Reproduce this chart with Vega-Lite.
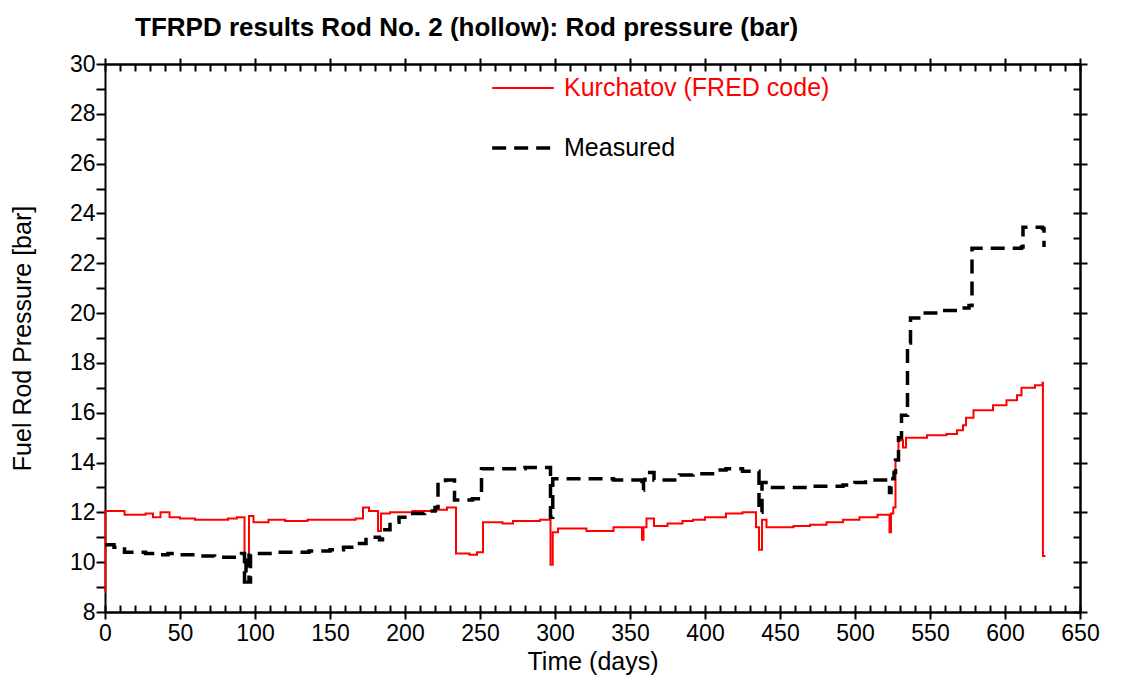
{
  "$schema": "https://vega.github.io/schema/vega-lite/v6.json",
  "width": 975,
  "height": 548,
  "autosize": {"type": "none"},
  "padding": {"left": 105, "top": 64, "right": 45, "bottom": 68},
  "background": "white",
  "title": {"text": "TFRPD results Rod No. 2 (hollow): Rod pressure (bar)", "anchor": "start", "frame": "group", "dx": 30, "fontSize": 26, "fontWeight": "bold", "font": "Liberation Sans", "color": "black", "offset": 12},
  "config": {
    "view": {"stroke": null},
    "axis": {"grid": false, "domainColor": "black", "domainWidth": 2, "tickColor": "black", "tickWidth": 2, "labelFont": "Liberation Sans", "labelFontSize": 23, "labelColor": "black", "labelFlush": false, "labelOverlap": false, "titleFont": "Liberation Sans", "titleFontSize": 25, "titleFontWeight": "normal", "titleColor": "black"}
  },
  "data": {"values": [
    {"day": 0, "p": 8.8, "series": "Kurchatov (FRED code)"},
    {"day": 0.3, "p": 12.05, "series": "Kurchatov (FRED code)"},
    {"day": 13, "p": 11.9, "series": "Kurchatov (FRED code)"},
    {"day": 27, "p": 11.95, "series": "Kurchatov (FRED code)"},
    {"day": 32, "p": 11.8, "series": "Kurchatov (FRED code)"},
    {"day": 37, "p": 12.0, "series": "Kurchatov (FRED code)"},
    {"day": 43, "p": 11.8, "series": "Kurchatov (FRED code)"},
    {"day": 50, "p": 11.75, "series": "Kurchatov (FRED code)"},
    {"day": 60, "p": 11.7, "series": "Kurchatov (FRED code)"},
    {"day": 82, "p": 11.75, "series": "Kurchatov (FRED code)"},
    {"day": 88, "p": 11.8, "series": "Kurchatov (FRED code)"},
    {"day": 93, "p": 10.0, "series": "Kurchatov (FRED code)"},
    {"day": 96, "p": 11.85, "series": "Kurchatov (FRED code)"},
    {"day": 99, "p": 11.6, "series": "Kurchatov (FRED code)"},
    {"day": 109, "p": 11.7, "series": "Kurchatov (FRED code)"},
    {"day": 120, "p": 11.65, "series": "Kurchatov (FRED code)"},
    {"day": 135, "p": 11.7, "series": "Kurchatov (FRED code)"},
    {"day": 167, "p": 11.75, "series": "Kurchatov (FRED code)"},
    {"day": 172, "p": 12.2, "series": "Kurchatov (FRED code)"},
    {"day": 176, "p": 12.05, "series": "Kurchatov (FRED code)"},
    {"day": 182, "p": 11.25, "series": "Kurchatov (FRED code)"},
    {"day": 184, "p": 11.95, "series": "Kurchatov (FRED code)"},
    {"day": 190, "p": 12.0, "series": "Kurchatov (FRED code)"},
    {"day": 205, "p": 12.05, "series": "Kurchatov (FRED code)"},
    {"day": 221, "p": 12.1, "series": "Kurchatov (FRED code)"},
    {"day": 228, "p": 12.2, "series": "Kurchatov (FRED code)"},
    {"day": 234, "p": 10.35, "series": "Kurchatov (FRED code)"},
    {"day": 243, "p": 10.3, "series": "Kurchatov (FRED code)"},
    {"day": 248, "p": 10.4, "series": "Kurchatov (FRED code)"},
    {"day": 252, "p": 11.6, "series": "Kurchatov (FRED code)"},
    {"day": 265, "p": 11.55, "series": "Kurchatov (FRED code)"},
    {"day": 272, "p": 11.65, "series": "Kurchatov (FRED code)"},
    {"day": 290, "p": 11.7, "series": "Kurchatov (FRED code)"},
    {"day": 297, "p": 9.9, "series": "Kurchatov (FRED code)"},
    {"day": 298.5, "p": 11.2, "series": "Kurchatov (FRED code)"},
    {"day": 302, "p": 11.35, "series": "Kurchatov (FRED code)"},
    {"day": 321, "p": 11.25, "series": "Kurchatov (FRED code)"},
    {"day": 339, "p": 11.4, "series": "Kurchatov (FRED code)"},
    {"day": 358, "p": 10.9, "series": "Kurchatov (FRED code)"},
    {"day": 359, "p": 11.4, "series": "Kurchatov (FRED code)"},
    {"day": 361, "p": 11.75, "series": "Kurchatov (FRED code)"},
    {"day": 366, "p": 11.45, "series": "Kurchatov (FRED code)"},
    {"day": 375, "p": 11.55, "series": "Kurchatov (FRED code)"},
    {"day": 385, "p": 11.65, "series": "Kurchatov (FRED code)"},
    {"day": 392, "p": 11.7, "series": "Kurchatov (FRED code)"},
    {"day": 400, "p": 11.8, "series": "Kurchatov (FRED code)"},
    {"day": 414, "p": 11.95, "series": "Kurchatov (FRED code)"},
    {"day": 425, "p": 12.0, "series": "Kurchatov (FRED code)"},
    {"day": 434, "p": 11.4, "series": "Kurchatov (FRED code)"},
    {"day": 436, "p": 10.5, "series": "Kurchatov (FRED code)"},
    {"day": 438, "p": 11.7, "series": "Kurchatov (FRED code)"},
    {"day": 441, "p": 11.4, "series": "Kurchatov (FRED code)"},
    {"day": 459, "p": 11.45, "series": "Kurchatov (FRED code)"},
    {"day": 470, "p": 11.5, "series": "Kurchatov (FRED code)"},
    {"day": 481, "p": 11.6, "series": "Kurchatov (FRED code)"},
    {"day": 492, "p": 11.7, "series": "Kurchatov (FRED code)"},
    {"day": 503, "p": 11.8, "series": "Kurchatov (FRED code)"},
    {"day": 515, "p": 11.9, "series": "Kurchatov (FRED code)"},
    {"day": 523, "p": 11.2, "series": "Kurchatov (FRED code)"},
    {"day": 524, "p": 11.95, "series": "Kurchatov (FRED code)"},
    {"day": 525.5, "p": 12.2, "series": "Kurchatov (FRED code)"},
    {"day": 527, "p": 14.1, "series": "Kurchatov (FRED code)"},
    {"day": 529, "p": 14.9, "series": "Kurchatov (FRED code)"},
    {"day": 532, "p": 14.6, "series": "Kurchatov (FRED code)"},
    {"day": 534, "p": 15.0, "series": "Kurchatov (FRED code)"},
    {"day": 548, "p": 15.1, "series": "Kurchatov (FRED code)"},
    {"day": 561, "p": 15.15, "series": "Kurchatov (FRED code)"},
    {"day": 568, "p": 15.3, "series": "Kurchatov (FRED code)"},
    {"day": 572, "p": 15.5, "series": "Kurchatov (FRED code)"},
    {"day": 574, "p": 15.8, "series": "Kurchatov (FRED code)"},
    {"day": 579, "p": 16.1, "series": "Kurchatov (FRED code)"},
    {"day": 592, "p": 16.3, "series": "Kurchatov (FRED code)"},
    {"day": 601, "p": 16.5, "series": "Kurchatov (FRED code)"},
    {"day": 608, "p": 16.7, "series": "Kurchatov (FRED code)"},
    {"day": 611, "p": 17.0, "series": "Kurchatov (FRED code)"},
    {"day": 620, "p": 17.1, "series": "Kurchatov (FRED code)"},
    {"day": 625, "p": 17.2, "series": "Kurchatov (FRED code)"},
    {"day": 625.3, "p": 10.25, "series": "Kurchatov (FRED code)"},
    {"day": 627, "p": 10.25, "series": "Kurchatov (FRED code)"},
    {"day": 0, "p": 10.7, "series": "Measured"},
    {"day": 6, "p": 10.6, "series": "Measured"},
    {"day": 13, "p": 10.4, "series": "Measured"},
    {"day": 27, "p": 10.35, "series": "Measured"},
    {"day": 33, "p": 10.3, "series": "Measured"},
    {"day": 42, "p": 10.35, "series": "Measured"},
    {"day": 48, "p": 10.3, "series": "Measured"},
    {"day": 60, "p": 10.25, "series": "Measured"},
    {"day": 73, "p": 10.2, "series": "Measured"},
    {"day": 88, "p": 10.3, "series": "Measured"},
    {"day": 91, "p": 10.35, "series": "Measured"},
    {"day": 93, "p": 9.2, "series": "Measured"},
    {"day": 94, "p": 10.35, "series": "Measured"},
    {"day": 96, "p": 9.2, "series": "Measured"},
    {"day": 97, "p": 10.35, "series": "Measured"},
    {"day": 114, "p": 10.4, "series": "Measured"},
    {"day": 136, "p": 10.45, "series": "Measured"},
    {"day": 150, "p": 10.5, "series": "Measured"},
    {"day": 159, "p": 10.6, "series": "Measured"},
    {"day": 168, "p": 10.75, "series": "Measured"},
    {"day": 174, "p": 11.0, "series": "Measured"},
    {"day": 183, "p": 10.9, "series": "Measured"},
    {"day": 185, "p": 11.3, "series": "Measured"},
    {"day": 190, "p": 11.6, "series": "Measured"},
    {"day": 196, "p": 11.8, "series": "Measured"},
    {"day": 202, "p": 11.95, "series": "Measured"},
    {"day": 213, "p": 12.05, "series": "Measured"},
    {"day": 220, "p": 12.2, "series": "Measured"},
    {"day": 222, "p": 13.2, "series": "Measured"},
    {"day": 227, "p": 13.3, "series": "Measured"},
    {"day": 233, "p": 12.5, "series": "Measured"},
    {"day": 245, "p": 12.55, "series": "Measured"},
    {"day": 251, "p": 13.75, "series": "Measured"},
    {"day": 280, "p": 13.8, "series": "Measured"},
    {"day": 297, "p": 11.8, "series": "Measured"},
    {"day": 298.5, "p": 13.35, "series": "Measured"},
    {"day": 339, "p": 13.3, "series": "Measured"},
    {"day": 358, "p": 12.9, "series": "Measured"},
    {"day": 359, "p": 13.3, "series": "Measured"},
    {"day": 360, "p": 13.6, "series": "Measured"},
    {"day": 366, "p": 13.3, "series": "Measured"},
    {"day": 383, "p": 13.5, "series": "Measured"},
    {"day": 392, "p": 13.55, "series": "Measured"},
    {"day": 405, "p": 13.7, "series": "Measured"},
    {"day": 414, "p": 13.75, "series": "Measured"},
    {"day": 425, "p": 13.65, "series": "Measured"},
    {"day": 436, "p": 12.0, "series": "Measured"},
    {"day": 438, "p": 13.2, "series": "Measured"},
    {"day": 443, "p": 13.0, "series": "Measured"},
    {"day": 470, "p": 13.05, "series": "Measured"},
    {"day": 492, "p": 13.1, "series": "Measured"},
    {"day": 500, "p": 13.2, "series": "Measured"},
    {"day": 507, "p": 13.3, "series": "Measured"},
    {"day": 523, "p": 12.8, "series": "Measured"},
    {"day": 524, "p": 13.35, "series": "Measured"},
    {"day": 526, "p": 13.6, "series": "Measured"},
    {"day": 527, "p": 14.1, "series": "Measured"},
    {"day": 529, "p": 15.0, "series": "Measured"},
    {"day": 531, "p": 15.9, "series": "Measured"},
    {"day": 535, "p": 18.8, "series": "Measured"},
    {"day": 537, "p": 19.8, "series": "Measured"},
    {"day": 545, "p": 20.0, "series": "Measured"},
    {"day": 555, "p": 20.1, "series": "Measured"},
    {"day": 570, "p": 20.2, "series": "Measured"},
    {"day": 576, "p": 20.3, "series": "Measured"},
    {"day": 578, "p": 22.6, "series": "Measured"},
    {"day": 611, "p": 22.65, "series": "Measured"},
    {"day": 612, "p": 23.45, "series": "Measured"},
    {"day": 625, "p": 23.4, "series": "Measured"},
    {"day": 626, "p": 22.65, "series": "Measured"}
  ]},
  "resolve": {"axis": {"x": "independent", "y": "independent"}},
  "layer": [
    {
      "mark": {"type": "line", "interpolate": "step-after"},
      "encoding": {
        "x": {"field": "day", "type": "quantitative", "scale": {"domain": [0, 650], "nice": false, "zero": false},
              "axis": {"orient": "bottom", "values": [0,50,100,150,200,250,300,350,400,450,500,550,600,650], "tickSize": 7, "labelPadding": 3, "title": "Time (days)", "titlePadding": 4}},
        "y": {"field": "p", "type": "quantitative", "scale": {"domain": [8, 30], "nice": false, "zero": false},
              "axis": {"orient": "left", "values": [8,9,10,11,12,13,14,15,16,17,18,19,20,21,22,23,24,25,26,27,28,29,30], "labelExpr": "datum.value % 2 == 0 ? datum.label : ''", "tickSize": 9, "labelPadding": 1, "title": "Fuel Rod Pressure [bar]", "titlePadding": 34}},
        "color": {"field": "series", "type": "nominal", "scale": {"domain": ["Kurchatov (FRED code)", "Measured"], "range": ["#ff0000", "#000000"]},
                  "legend": {"orient": "none", "legendX": 385, "legendY": -8, "title": null, "symbolType": "stroke", "symbolSize": 3800, "labelFontSize": 25, "labelFont": "Liberation Sans", "labelLimit": 500, "labelOffset": 8, "rowPadding": 14,
                             "encode": {"labels": {"update": {"fill": {"signal": "datum.value === 'Measured' ? '#000000' : '#ff0000'"}}}}}},
        "strokeDash": {"field": "series", "type": "nominal", "scale": {"domain": ["Kurchatov (FRED code)", "Measured"], "range": [[1, 0], [14, 8]]}},
        "strokeWidth": {"field": "series", "type": "nominal", "scale": {"domain": ["Kurchatov (FRED code)", "Measured"], "range": [2, 3.5]}}
      }
    },
    {
      "mark": {"type": "line", "opacity": 0},
      "encoding": {
        "x": {"field": "day", "type": "quantitative", "scale": {"domain": [0, 650], "nice": false, "zero": false},
              "axis": {"orient": "bottom", "values": [0,10,20,30,40,50,60,70,80,90,100,110,120,130,140,150,160,170,180,190,200,210,220,230,240,250,260,270,280,290,300,310,320,330,340,350,360,370,380,390,400,410,420,430,440,450,460,470,480,490,500,510,520,530,540,550,560,570,580,590,600,610,620,630,640,650], "tickSize": -7, "labels": false, "title": null}},
        "y": {"field": "p", "type": "quantitative", "scale": {"domain": [8, 30], "nice": false, "zero": false},
              "axis": {"orient": "right", "values": [8,9,10,11,12,13,14,15,16,17,18,19,20,21,22,23,24,25,26,27,28,29,30], "tickSize": -7, "labels": false, "title": null}}
      }
    },
    {
      "mark": {"type": "line", "opacity": 0},
      "encoding": {
        "x": {"field": "day", "type": "quantitative", "scale": {"domain": [0, 650], "nice": false, "zero": false},
              "axis": {"orient": "top", "values": [0,10,20,30,40,50,60,70,80,90,100,110,120,130,140,150,160,170,180,190,200,210,220,230,240,250,260,270,280,290,300,310,320,330,340,350,360,370,380,390,400,410,420,430,440,450,460,470,480,490,500,510,520,530,540,550,560,570,580,590,600,610,620,630,640,650], "tickSize": -7, "labels": false, "title": null}},
        "y": {"field": "p", "type": "quantitative", "scale": {"domain": [8, 30], "nice": false, "zero": false},
              "axis": {"orient": "right", "values": [8,10,12,14,16,18,20,22,24,26,28,30], "tickSize": 7, "labels": false, "title": null}}
      }
    },
    {
      "mark": {"type": "line", "opacity": 0},
      "encoding": {
        "x": {"field": "day", "type": "quantitative", "scale": {"domain": [0, 650], "nice": false, "zero": false},
              "axis": {"orient": "top", "values": [0,50,100,150,200,250,300,350,400,450,500,550,600,650], "tickSize": 6, "labels": false, "title": null}},
        "y": {"field": "p", "type": "quantitative", "scale": {"domain": [8, 30], "nice": false, "zero": false}, "axis": null}
      }
    }
  ]
}
